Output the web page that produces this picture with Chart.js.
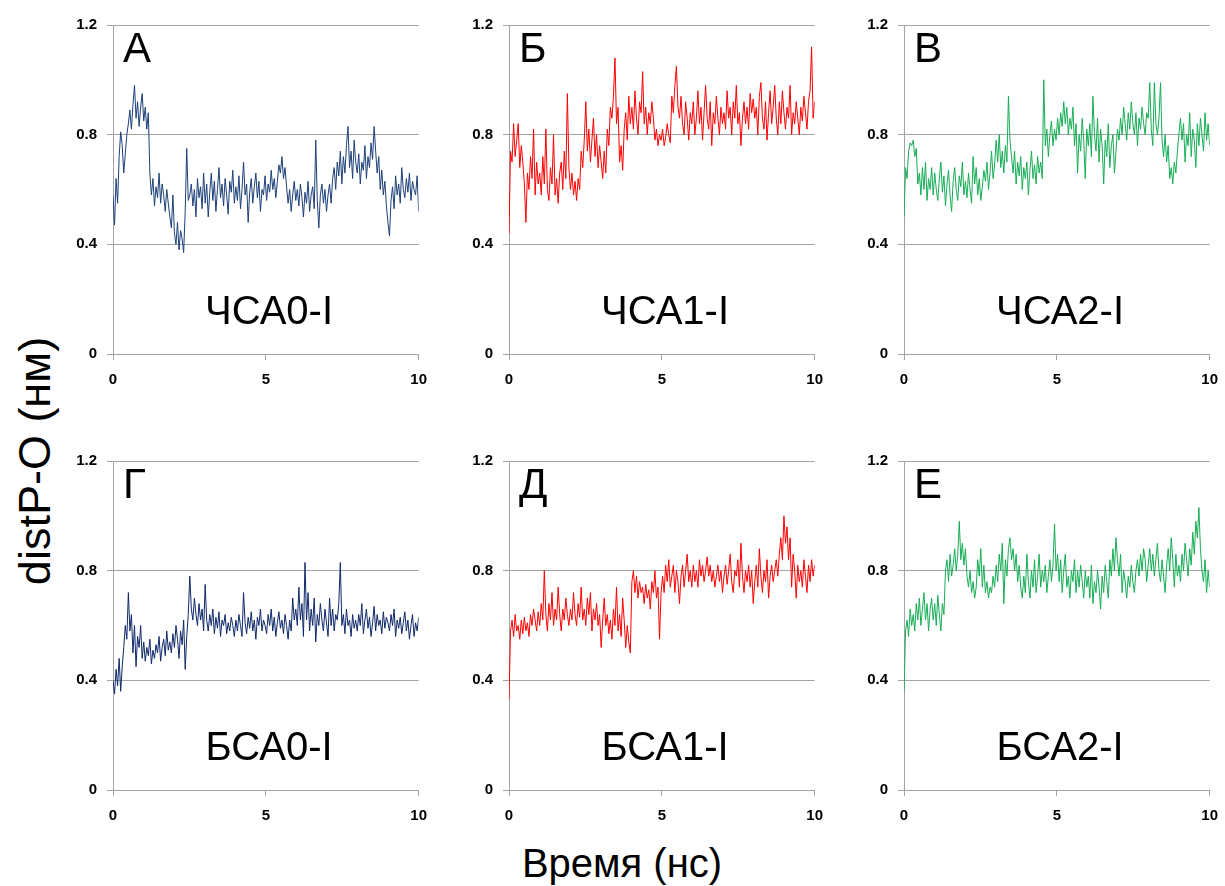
<!DOCTYPE html>
<html>
<head>
<meta charset="utf-8">
<script src="https://cdn.jsdelivr.net/npm/chart.js@4.4.1/dist/chart.umd.min.js"></script>
<style>
  body { margin: 0; background: #fff; }
  #page { position: relative; width: 1225px; height: 886px; overflow: hidden; font-family: 'Liberation Sans', Arial, sans-serif; color: #000; }
  .panel { position: absolute; width: 385px; height: 398px; }
  .panel canvas { position: absolute; left: 0; top: 0; }
  .letter { position: absolute; left: 70px; top: 20.5px; font-size: 42px; line-height: 1; }
  .name { position: absolute; left: 63px; top: 283.5px; width: 306px; text-align: center; font-size: 40px; line-height: 1; }
  #yTitle { position: absolute; left: 34px; top: 461px; font-size: 45px; line-height: 1; white-space: nowrap; transform: translate(-50%, -50%) rotate(-90deg); }
  #xTitle { position: absolute; left: 622px; top: 843px; font-size: 40px; line-height: 1; white-space: nowrap; transform: translateX(-50%); }
</style>
</head>
<body>
<div id="page">
  <div id="yTitle">distP-O (нм)</div>
  <div id="xTitle">Время (нс)</div>
</div>
<script>
'use strict';

//panel captions
let panelLetters = ['А', 'Б', 'В', 'Г', 'Д', 'Е'];
let panelNames = ['ЧСА0-I', 'ЧСА1-I', 'ЧСА2-I', 'БСА0-I', 'БСА1-I', 'БСА2-I'];
let panelColors = ['#1d4078', '#ff0000', '#17ad55', '#10296a', '#ff0000', '#17ad55'];

//axis ticks
let xTicks = [0, 5, 10];
let yTicks = [0, 0.4, 0.8, 1.2];
let timeEnd = 10;

let distA = [
  0.58, 0.47, 0.64, 0.55, 0.72, 0.81, 0.76, 0.66, 0.73, 0.80, 0.84, 0.89, 0.82, 0.91, 0.98, 0.86, 0.92, 0.83, 0.90, 0.95,
  0.85, 0.90, 0.82, 0.88, 0.66, 0.58, 0.64, 0.54, 0.61, 0.57, 0.66, 0.55, 0.62, 0.58, 0.52, 0.60, 0.55, 0.50, 0.46, 0.58,
  0.44, 0.40, 0.48, 0.38, 0.45, 0.42, 0.37, 0.52, 0.75, 0.56, 0.58, 0.62, 0.54, 0.60, 0.50, 0.64, 0.57, 0.61, 0.53, 0.66,
  0.55, 0.62, 0.50, 0.59, 0.66, 0.56, 0.63, 0.52, 0.60, 0.68, 0.57, 0.62, 0.54, 0.64, 0.58, 0.51, 0.63, 0.59, 0.67, 0.55,
  0.61, 0.56, 0.65, 0.53, 0.60, 0.70, 0.58, 0.62, 0.48, 0.59, 0.64, 0.55, 0.61, 0.66, 0.57, 0.63, 0.52, 0.60, 0.58, 0.65,
  0.56, 0.62, 0.59, 0.67, 0.60, 0.64, 0.57, 0.63, 0.69, 0.66, 0.72, 0.64, 0.68, 0.61, 0.55, 0.60, 0.52, 0.58, 0.63, 0.56,
  0.60, 0.54, 0.62, 0.57, 0.50, 0.59, 0.55, 0.63, 0.52, 0.58, 0.61, 0.53, 0.78, 0.56, 0.46, 0.58, 0.62, 0.55, 0.60, 0.52,
  0.58, 0.62, 0.55, 0.64, 0.68, 0.60, 0.70, 0.65, 0.74, 0.62, 0.72, 0.66, 0.76, 0.83, 0.68, 0.74, 0.64, 0.78, 0.70, 0.66,
  0.73, 0.62, 0.70, 0.67, 0.76, 0.64, 0.72, 0.68, 0.77, 0.71, 0.83, 0.74, 0.66, 0.72, 0.60, 0.67, 0.58, 0.63, 0.54, 0.48,
  0.43, 0.56, 0.61, 0.53, 0.65, 0.58, 0.62, 0.55, 0.68, 0.60, 0.57, 0.64, 0.59, 0.66, 0.56, 0.63, 0.60, 0.58, 0.65, 0.52
];
let distB = [
  0.44, 0.74, 0.70, 0.84, 0.72, 0.78, 0.84, 0.68, 0.76, 0.70, 0.62, 0.48, 0.66, 0.60, 0.72, 0.64, 0.82, 0.58, 0.70, 0.62,
  0.66, 0.58, 0.72, 0.62, 0.82, 0.60, 0.56, 0.68, 0.62, 0.80, 0.58, 0.64, 0.55, 0.66, 0.70, 0.60, 0.74, 0.64, 0.95, 0.68,
  0.60, 0.66, 0.58, 0.63, 0.56, 0.64, 0.60, 0.74, 0.68, 0.78, 0.92, 0.74, 0.82, 0.70, 0.78, 0.86, 0.72, 0.80, 0.68, 0.76,
  0.70, 0.64, 0.74, 0.66, 0.82, 0.76, 0.90, 0.86, 0.94, 1.08, 0.84, 0.90, 0.70, 0.76, 0.67, 0.82, 0.88, 0.78, 0.94, 0.84,
  0.90, 0.82, 0.96, 0.86, 0.80, 0.92, 0.88, 1.03, 0.84, 0.90, 0.80, 0.88, 0.84, 0.92, 0.86, 0.78, 0.82, 0.76, 0.80, 0.78,
  0.82, 0.76, 0.79, 0.84, 0.80, 0.77, 0.94, 0.88, 0.98, 1.05, 0.90, 0.86, 0.94, 0.84, 0.80, 0.92, 0.86, 0.78, 0.88, 0.84,
  0.92, 0.80, 0.86, 0.96, 0.84, 0.90, 0.78, 0.88, 0.98, 0.86, 0.82, 0.92, 0.76, 0.88, 0.84, 0.94, 0.86, 0.80, 0.90, 0.84,
  0.88, 0.82, 0.96, 0.86, 0.90, 0.80, 0.92, 0.86, 0.98, 0.84, 0.88, 0.76, 0.86, 0.92, 0.84, 0.90, 0.82, 0.95, 0.88, 0.93,
  0.86, 0.90, 0.80, 0.94, 0.99, 0.86, 0.82, 0.92, 0.78, 0.88, 0.96, 0.84, 0.90, 0.98, 0.86, 0.80, 0.92, 0.84, 0.96, 0.88,
  0.82, 0.90, 0.86, 0.98, 0.80, 0.88, 0.84, 0.92, 0.86, 0.80, 0.90, 0.85, 0.94, 0.88, 0.82, 0.92, 0.96, 1.12, 0.86, 0.92
];
let distC = [
  0.50, 0.68, 0.64, 0.74, 0.77, 0.76, 0.78, 0.72, 0.75, 0.62, 0.66, 0.58, 0.68, 0.60, 0.70, 0.56, 0.64, 0.60, 0.68, 0.58,
  0.66, 0.60, 0.56, 0.64, 0.70, 0.59, 0.65, 0.54, 0.62, 0.67, 0.58, 0.52, 0.63, 0.68, 0.60, 0.56, 0.65, 0.61, 0.70, 0.58,
  0.63, 0.57, 0.66, 0.60, 0.55, 0.72, 0.62, 0.68, 0.58, 0.64, 0.56, 0.61, 0.67, 0.63, 0.70, 0.60, 0.66, 0.74, 0.64, 0.69,
  0.78, 0.70, 0.80, 0.68, 0.74, 0.66, 0.76, 0.70, 0.94, 0.78, 0.72, 0.66, 0.74, 0.62, 0.70, 0.65, 0.72, 0.60, 0.68, 0.64,
  0.70, 0.58, 0.67, 0.74, 0.64, 0.69, 0.62, 0.72, 0.66, 0.70, 0.64, 1.00, 0.76, 0.82, 0.72, 0.80, 0.85, 0.76, 0.82, 0.78,
  0.86, 0.80, 0.88, 0.83, 0.92, 0.84, 0.90, 0.80, 0.86, 0.82, 0.90, 0.76, 0.84, 0.66, 0.80, 0.74, 0.86, 0.78, 0.64, 0.82,
  0.76, 0.84, 0.72, 0.94, 0.80, 0.74, 0.86, 0.70, 0.82, 0.76, 0.62, 0.78, 0.72, 0.84, 0.68, 0.76, 0.80, 0.66, 0.74, 0.82,
  0.78, 0.86, 0.80, 0.90, 0.84, 0.78, 0.88, 0.82, 0.92, 0.84, 0.80, 0.88, 0.76, 0.86, 0.82, 0.90, 0.84, 0.80, 0.88, 0.86,
  0.99, 0.82, 0.76, 0.99, 0.84, 0.80, 0.86, 0.99, 0.78, 0.72, 0.80, 0.70, 0.76, 0.64, 0.68, 0.62, 0.70, 0.66, 0.74, 0.80,
  0.86, 0.78, 0.84, 0.70, 0.80, 0.76, 0.88, 0.72, 0.82, 0.78, 0.68, 0.84, 0.76, 0.86, 0.80, 0.74, 0.88, 0.78, 0.84, 0.76
];
let distD = [
  0.40, 0.35, 0.44, 0.38, 0.48, 0.36, 0.45, 0.52, 0.60, 0.55, 0.72, 0.58, 0.64, 0.50, 0.60, 0.45, 0.56, 0.52, 0.60, 0.48,
  0.54, 0.47, 0.52, 0.49, 0.55, 0.46, 0.51, 0.48, 0.53, 0.50, 0.56, 0.47, 0.52, 0.55, 0.49, 0.58, 0.51, 0.54, 0.50, 0.57,
  0.52, 0.60, 0.55, 0.48, 0.58, 0.53, 0.62, 0.44, 0.56, 0.64, 0.78, 0.66, 0.62, 0.70, 0.64, 0.60, 0.68, 0.62, 0.66, 0.58,
  0.75, 0.62, 0.58, 0.64, 0.60, 0.66, 0.57, 0.63, 0.59, 0.65, 0.56, 0.62, 0.60, 0.64, 0.57, 0.61, 0.58, 0.63, 0.60, 0.56,
  0.62, 0.58, 0.64, 0.60, 0.56, 0.72, 0.61, 0.57, 0.63, 0.59, 0.65, 0.58, 0.62, 0.55, 0.63, 0.60, 0.66, 0.58, 0.62, 0.60,
  0.57, 0.64, 0.60, 0.66, 0.58, 0.63, 0.56, 0.61, 0.65, 0.59, 0.62, 0.57, 0.64, 0.60, 0.55, 0.62, 0.58, 0.70, 0.62, 0.66,
  0.60, 0.74, 0.62, 0.68, 0.56, 0.83, 0.62, 0.72, 0.58, 0.66, 0.60, 0.70, 0.54, 0.64, 0.60, 0.68, 0.62, 0.58, 0.66, 0.61,
  0.56, 0.70, 0.60, 0.66, 0.58, 0.64, 0.62, 0.68, 0.83, 0.60, 0.64, 0.57, 0.66, 0.60, 0.62, 0.56, 0.64, 0.59, 0.62, 0.58,
  0.64, 0.60, 0.68, 0.57, 0.62, 0.66, 0.59, 0.63, 0.56, 0.61, 0.67, 0.58, 0.64, 0.60, 0.62, 0.57, 0.65, 0.59, 0.63, 0.61,
  0.58, 0.64, 0.60, 0.66, 0.56, 0.62, 0.59, 0.63, 0.57, 0.61, 0.65, 0.58, 0.62, 0.55, 0.60, 0.64, 0.56, 0.61, 0.58, 0.63
];
let distE = [
  0.33, 0.58, 0.62, 0.56, 0.64, 0.58, 0.60, 0.55, 0.62, 0.57, 0.63, 0.58, 0.61, 0.56, 0.64, 0.60, 0.66, 0.62, 0.58, 0.65,
  0.60, 0.68, 0.62, 0.80, 0.64, 0.58, 0.68, 0.62, 0.72, 0.60, 0.66, 0.62, 0.74, 0.64, 0.58, 0.66, 0.62, 0.70, 0.64, 0.60,
  0.66, 0.62, 0.72, 0.64, 0.60, 0.68, 0.63, 0.74, 0.62, 0.66, 0.60, 0.70, 0.64, 0.72, 0.58, 0.66, 0.62, 0.68, 0.60, 0.64,
  0.52, 0.62, 0.70, 0.60, 0.64, 0.57, 0.62, 0.55, 0.66, 0.60, 0.74, 0.58, 0.64, 0.56, 0.70, 0.62, 0.52, 0.60, 0.54, 0.50,
  0.76, 0.80, 0.72, 0.78, 0.70, 0.76, 0.72, 0.74, 0.68, 0.75, 0.70, 0.73, 0.66, 0.76, 0.72, 0.80, 0.70, 0.74, 0.55, 0.72,
  0.78, 0.72, 0.82, 0.76, 0.84, 0.74, 0.78, 0.82, 0.72, 0.80, 0.76, 0.68, 0.78, 0.82, 0.74, 0.80, 0.86, 0.76, 0.80, 0.74,
  0.82, 0.76, 0.80, 0.74, 0.84, 0.78, 0.82, 0.76, 0.80, 0.85, 0.78, 0.82, 0.76, 0.80, 0.74, 0.78, 0.82, 0.76, 0.80, 0.72,
  0.78, 0.82, 0.75, 0.80, 0.86, 0.76, 0.72, 0.80, 0.78, 0.84, 0.74, 0.90, 0.78, 0.72, 0.80, 0.76, 0.82, 0.74, 0.80, 0.68,
  0.76, 0.82, 0.74, 0.88, 0.78, 0.72, 0.80, 0.76, 0.84, 0.70, 0.78, 0.82, 0.76, 0.80, 0.84, 0.78, 0.86, 0.92, 0.84, 1.00,
  0.90, 0.96, 0.84, 0.92, 0.74, 0.86, 0.80, 0.70, 0.82, 0.76, 0.80, 0.74, 0.84, 0.78, 0.72, 0.82, 0.76, 0.84, 0.78, 0.82
];
let distF = [
  0.36, 0.58, 0.62, 0.56, 0.66, 0.60, 0.64, 0.58, 0.68, 0.62, 0.70, 0.60, 0.66, 0.72, 0.62, 0.68, 0.58, 0.66, 0.70, 0.62,
  0.68, 0.60, 0.71, 0.64, 0.58, 0.68, 0.64, 0.80, 0.84, 0.76, 0.86, 0.78, 0.82, 0.88, 0.80, 0.86, 0.98, 0.84, 0.90, 0.82,
  0.88, 0.78, 0.74, 0.80, 0.72, 0.76, 0.70, 0.74, 0.84, 0.78, 0.88, 0.74, 0.82, 0.72, 0.76, 0.70, 0.74, 0.72, 0.78, 0.74,
  0.82, 0.76, 0.86, 0.80, 0.90, 0.68, 0.84, 0.78, 0.88, 0.92, 0.84, 0.88, 0.80, 0.86, 0.76, 0.82, 0.74, 0.70, 0.78, 0.72,
  0.86, 0.76, 0.70, 0.80, 0.74, 0.84, 0.72, 0.78, 0.86, 0.74, 0.80, 0.76, 0.82, 0.72, 0.78, 0.84, 0.76, 0.82, 0.97, 0.80,
  0.86, 0.76, 0.84, 0.72, 0.80, 0.86, 0.74, 0.78, 0.70, 0.80, 0.76, 0.84, 0.72, 0.80, 0.74, 0.82, 0.76, 0.70, 0.80, 0.74,
  0.78, 0.70, 0.82, 0.68, 0.76, 0.72, 0.80, 0.74, 0.66, 0.78, 0.72, 0.82, 0.76, 0.70, 0.84, 0.78, 0.88, 0.80, 0.92, 0.84,
  0.78, 0.86, 0.72, 0.80, 0.76, 0.70, 0.78, 0.74, 0.82, 0.76, 0.72, 0.80, 0.84, 0.78, 0.86, 0.80, 0.88, 0.84, 0.76, 0.82,
  0.88, 0.80, 0.86, 0.78, 0.84, 0.90, 0.80, 0.76, 0.84, 0.78, 0.72, 0.82, 0.88, 0.80, 0.92, 0.84, 0.74, 0.86, 0.78, 0.82,
  0.76, 0.86, 0.80, 0.90, 0.84, 0.78, 0.88, 0.82, 0.94, 0.86, 0.98, 0.92, 1.03, 0.88, 0.80, 0.76, 0.84, 0.72, 0.80, 0.74
];
let allSeries = [distA, distB, distC, distD, distE, distF];

//where each panel box sits on the page
let colLeft = [53, 449, 844];
let rowTop = [6, 442];
let gridGray = '#a3a3a3';
let tickFont = { family: "'Liberation Sans', Arial, sans-serif", size: 15, weight: 'bold' };

//turn a list of distances into x/y points along the time axis
function toPoints(values) {
  let points = [];
  for (let i = 0; i < values.length; i++) {
    points.push({ x: i * timeEnd / (values.length - 1), y: values[i] });
  }
  return points;
}

function makePanel(index) {
  let page = document.getElementById('page');
  let box = document.createElement('div');
  box.className = 'panel';
  box.style.left = colLeft[index % 3] + 'px';
  box.style.top = rowTop[Math.floor(index / 3)] + 'px';

  let canvas = document.createElement('canvas');
  canvas.width = 385;
  canvas.height = 398;
  box.appendChild(canvas);

  let letter = document.createElement('div');
  letter.className = 'letter';
  letter.textContent = panelLetters[index];
  box.appendChild(letter);

  let name = document.createElement('div');
  name.className = 'name';
  name.textContent = panelNames[index];
  box.appendChild(name);

  page.appendChild(box);

  new Chart(canvas.getContext('2d'), {
    type: 'line',
    data: {
      datasets: [{
        data: toPoints(allSeries[index]),
        borderColor: panelColors[index],
        borderWidth: 1,
        pointRadius: 0,
        tension: 0,
        fill: false
      }]
    },
    options: {
      responsive: false,
      animation: false,
      devicePixelRatio: 1,
      layout: { padding: 0 },
      plugins: { legend: { display: false }, tooltip: { enabled: false } },
      scales: {
        x: {
          type: 'linear',
          min: 0,
          max: timeEnd,
          afterBuildTicks: (scale) => { scale.ticks = xTicks.map(v => ({ value: v })); },
          afterFit: (scale) => { scale.height = 50; },
          grid: { drawOnChartArea: false, drawTicks: true, tickLength: 6, color: gridGray },
          border: { display: true, color: gridGray },
          ticks: { font: tickFont, color: '#000', padding: 11, maxRotation: 0, callback: (v) => String(v) }
        },
        y: {
          min: 0,
          max: 1.2,
          afterBuildTicks: (scale) => { scale.ticks = yTicks.map(v => ({ value: v })); },
          afterFit: (scale) => { scale.width = 60; },
          grid: { color: gridGray, tickLength: 6 },
          border: { display: true, color: gridGray },
          ticks: { font: tickFont, color: '#000', padding: 10, callback: (v) => String(v) }
        }
      }
    }
  });
}

for (let i = 0; i < allSeries.length; i++) {
  makePanel(i);
}
</script>
</body>
</html>
